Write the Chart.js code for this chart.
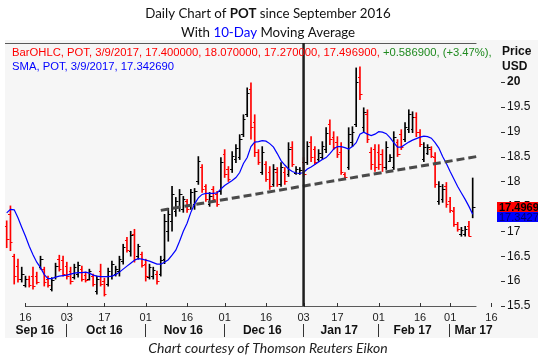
<!DOCTYPE html>
<html>
<head>
<meta charset="utf-8">
<title>POT daily chart</title>
<script src="https://cdn.jsdelivr.net/npm/chart.js@4.4.1/dist/chart.umd.min.js"></script>
<style>
  html, body { margin: 0; padding: 0; background: #fff; }
  #wrap { width: 538px; height: 363px; }
</style>
</head>
<body>
<div id="wrap"><canvas id="potChart" width="538" height="363"></canvas></div>
<script>
// Trading days, Sep 9 2016 .. Mar 21 2017 (bars stop at Mar 9)
const monthNames = ['Sep 16', 'Oct 16', 'Nov 16', 'Dec 16', 'Jan 17', 'Feb 17', 'Mar 17'];
const monthDays = [
  [9, 12, 13, 14, 15, 16, 19, 20, 21, 22, 23, 26, 27, 28, 29, 30],
  [3, 4, 5, 6, 7, 10, 11, 12, 13, 14, 17, 18, 19, 20, 21, 24, 25, 26, 27, 28, 31],
  [1, 2, 3, 4, 7, 8, 9, 10, 11, 14, 15, 16, 17, 18, 21, 22, 23, 25, 28, 29, 30],
  [1, 2, 5, 6, 7, 8, 9, 12, 13, 14, 15, 16, 19, 20, 21, 22, 23, 27, 28, 29, 30],
  [3, 4, 5, 6, 9, 10, 11, 12, 13, 17, 18, 19, 20, 23, 24, 25, 26, 27, 30, 31],
  [1, 2, 3, 6, 7, 8, 9, 10, 13, 14, 15, 16, 17, 21, 22, 23, 24, 27, 28],
  [1, 2, 3, 6, 7, 8, 9, 10, 13, 14, 15, 16, 17, 20, 21]
];
// [month, day] of the labelled ticks on the date axis
const tickDates = [[0, 16], [1, 3], [1, 17], [2, 1], [2, 16], [3, 1], [3, 16], [4, 3], [4, 17], [5, 1], [5, 16], [6, 1], [6, 16]];
const markerDate = [4, 3];            // vertical line, Jan 3
const trendDates = [[2, 7], [6, 10]]; // dashed support line
const trendPrices = [17.42, 18.50];
const priceTicks = [15.5, 16, 16.5, 17, 17.5, 18, 18.5, 19, 19.5, 20];
const lastDate = '3/9/2017';

const opens = [
  17.1, 17.35, 16.5, 16.3, 16.05, 15.92, 16.05, 16.1, 16.1, 16.28,
  16.25, 16.05, 15.85, 16.08, 16.45, 16.42, 16.3, 16.2, 16.08, 16.15,
  16.25, 16.12, 16.05, 16.1, 15.8, 16.2, 16.0, 15.95, 16.1, 16.15,
  16.2, 16.4, 16.82, 16.6, 16.95, 16.5, 16.55, 16.35, 16.08, 16.1,
  16.15, 16.15, 16.45, 17.0, 17.2, 17.4, 17.5, 17.45, 17.6, 17.5,
  17.55, 18.0, 18.3, 17.9, 17.55, 17.85, 17.75, 17.8, 18.55, 18.25,
  18.25, 18.45, 18.5, 18.95, 19.35, 19.85, 19.2, 18.6, 18.2, 18.35,
  18.2, 17.95, 18.2, 17.95, 18.2, 18.15, 18.7, 18.18, 18.17, 18.4,
  18.4, 18.8, 18.65, 18.45, 18.5, 18.65, 19.15, 18.9, 18.8, 18.6,
  18.15, 18.3, 18.8, 19.15, 20.1, 19.1, 19.35, 18.6, 18.65, 18.6,
  18.55, 18.3, 18.42, 18.3, 18.8, 18.95, 18.85, 19.05, 19.05, 19.3,
  19.0, 18.45, 18.58, 18.65, 18.5, 17.6, 17.65, 17.9, 17.6, 17.4,
  17.15, 16.95, 16.95, 17.1, 17.4
];
const highs = [
  17.21, 17.51, 16.54, 16.44, 16.28, 16.1, 16.1, 16.28, 16.18, 16.5,
  16.28, 16.1, 16.07, 16.36, 16.52, 16.5, 16.38, 16.28, 16.34, 16.38,
  16.3, 16.18, 16.24, 16.14, 16.1, 16.34, 16.06, 16.26, 16.4, 16.3,
  16.5, 16.74, 16.88, 17.0, 17.04, 16.74, 16.58, 16.44, 16.34, 16.28,
  16.2, 16.5, 17.34, 17.46, 17.9, 17.68, 17.84, 17.7, 17.64, 17.84,
  17.86, 18.5, 18.34, 17.94, 17.78, 17.9, 17.8, 18.48, 18.64, 18.3,
  18.6, 18.74, 18.94, 19.34, 19.88, 19.98, 19.34, 18.64, 18.7, 18.4,
  18.3, 18.34, 18.28, 18.38, 18.28, 18.78, 18.8, 18.3, 18.28, 18.48,
  18.8, 18.9, 18.7, 18.64, 18.8, 19.08, 19.24, 19.0, 18.9, 18.78,
  18.18, 19.08, 19.1, 20.28, 20.3, 19.48, 19.44, 18.68, 18.74, 18.74,
  18.64, 18.8, 18.54, 19.0, 18.84, 19.04, 19.18, 19.44, 19.4, 19.38,
  19.04, 18.78, 18.74, 18.7, 18.58, 18.0, 17.94, 17.98, 17.68, 17.48,
  17.18, 17.08, 17.1, 17.2, 18.07
];
const lows = [
  16.67, 16.61, 15.94, 15.98, 15.98, 15.88, 15.88, 15.84, 15.94, 16.24,
  15.9, 15.88, 15.8, 16.04, 16.2, 16.1, 16.04, 15.94, 16.04, 16.08,
  16.0, 15.98, 16.02, 15.9, 15.74, 15.9, 15.7, 15.9, 16.04, 16.1,
  16.1, 16.34, 16.58, 16.5, 16.38, 16.44, 16.28, 16.0, 16.04, 16.04,
  15.94, 16.1, 16.35, 16.8, 17.0, 17.3, 17.4, 17.38, 17.38, 17.44,
  17.44, 17.94, 17.78, 17.6, 17.5, 17.6, 17.5, 17.74, 18.08, 18.0,
  18.18, 18.38, 18.44, 18.9, 19.3, 18.85, 18.5, 18.34, 18.14, 18.0,
  17.84, 17.9, 17.9, 17.9, 17.94, 18.1, 18.3, 18.14, 18.14, 18.1,
  18.34, 18.4, 18.34, 18.4, 18.44, 18.58, 18.74, 18.64, 18.48, 18.14,
  18.04, 18.24, 18.7, 19.1, 19.64, 19.0, 18.78, 18.24, 18.2, 18.24,
  18.2, 18.24, 18.4, 18.24, 18.5, 18.64, 18.8, 18.98, 18.98, 18.9,
  18.7, 18.4, 18.54, 18.48, 17.88, 17.54, 17.58, 17.48, 17.38, 17.1,
  17.0, 16.9, 16.9, 16.9, 17.27
];
const closes = [
  16.85, 16.78, 16.1, 16.05, 16.15, 16.05, 15.92, 15.9, 15.98, 16.45,
  15.98, 15.92, 16.02, 16.3, 16.25, 16.15, 16.1, 16.0, 16.28, 16.32,
  16.05, 16.02, 16.2, 15.95, 16.05, 15.95, 15.75, 16.2, 16.35, 16.25,
  16.45, 16.68, 16.62, 16.92, 16.45, 16.7, 16.32, 16.1, 16.28, 16.22,
  16.0, 16.42, 17.2, 17.35, 17.75, 17.6, 17.75, 17.65, 17.45, 17.78,
  17.8, 18.42, 17.85, 17.65, 17.7, 17.65, 17.55, 18.4, 18.15, 18.05,
  18.52, 18.68, 18.85, 19.25, 19.78, 19.1, 18.6, 18.4, 18.6, 18.05,
  17.9, 18.25, 17.95, 18.3, 18.0, 18.65, 18.35, 18.26, 18.24, 18.15,
  18.72, 18.5, 18.4, 18.58, 18.72, 18.98, 18.85, 18.7, 18.55, 18.2,
  18.08, 18.95, 19.0, 20.0, 19.75, 19.4, 18.85, 18.35, 18.3, 18.35,
  18.3, 18.7, 18.5, 18.9, 18.55, 18.7, 19.1, 19.35, 19.3, 19.0,
  18.75, 18.7, 18.7, 18.52, 17.95, 17.9, 17.85, 17.55, 17.42, 17.15,
  17.05, 17.02, 17.05, 16.91, 17.4969
];
// 10-day simple moving average as drawn on the chart
const sma10 = [
  17.37, 17.44, 17.43, 17.27, 17.08, 16.9, 16.7, 16.53, 16.38, 16.27,
  16.13, 16.05, 16.05, 16.08, 16.1, 16.11, 16.12, 16.14, 16.16, 16.17,
  16.17, 16.18, 16.16, 16.12, 16.1, 16.09, 16.09, 16.09, 16.1, 16.13,
  16.18, 16.24, 16.3, 16.36, 16.42, 16.45, 16.44, 16.42, 16.4, 16.37,
  16.34, 16.34, 16.38, 16.43, 16.52, 16.62, 16.8, 17.0, 17.16, 17.38,
  17.55, 17.67, 17.74, 17.76, 17.76, 17.76, 17.77, 17.85, 17.92, 17.97,
  18.02, 18.08, 18.18, 18.36, 18.48, 18.7, 18.79, 18.8, 18.82, 18.81,
  18.76, 18.69, 18.56, 18.42, 18.33, 18.25, 18.2, 18.17, 18.16, 18.18,
  18.25, 18.29, 18.34, 18.39, 18.44, 18.48, 18.56, 18.65, 18.7, 18.7,
  18.68, 18.65, 18.7, 18.78, 18.95, 18.99, 18.95, 18.92, 18.95, 19.0,
  18.99, 18.96, 18.88, 18.78, 18.69, 18.69, 18.74, 18.79, 18.83, 18.86,
  18.89, 18.91, 18.9, 18.87, 18.78, 18.67, 18.5, 18.36, 18.2, 18.05,
  17.9, 17.77, 17.64, 17.5, 17.34269
];

// ---- helpers
const tradingDays = [];
monthDays.forEach((days, m) => days.forEach(d => tradingDays.push({ m: m, d: d })));
function dayIndex(md) {
  return tradingDays.findIndex(t => t.m === md[0] && t.d === md[1]);
}
const tickIdx = tickDates.map(dayIndex);
const markerIdx = dayIndex(markerDate);
const lastIdx = closes.length - 1;

const UP = '#000000';
const DOWN = '#ff0000';
const barColors = closes.map((c, i) => (c >= opens[i] ? UP : DOWN));

const hlData = highs.map((h, i) => ({ x: i, y: [lows[i], h] }));
const smaData = sma10.map((v, i) => ({ x: i, y: v }));
const trendData = trendDates.map((d, i) => ({ x: dayIndex(d), y: trendPrices[i] }));

const SANS = '"Liberation Sans", Arial, sans-serif';

function drawParts(ctx, parts, x, y, align) {
  let total = 0;
  parts.forEach(p => { ctx.font = p.font; total += ctx.measureText(p.text).width; });
  let cx = align === 'center' ? x - total / 2 : x;
  ctx.textAlign = 'left';
  parts.forEach(p => {
    ctx.font = p.font;
    ctx.fillStyle = p.color;
    ctx.fillText(p.text, cx, y);
    cx += ctx.measureText(p.text).width;
  });
}

// all the Eikon style decoration round the plot
const eikonDecor = {
  id: 'eikonDecor',
  beforeDraw(chart) {
    const ctx = chart.ctx;
    ctx.save();
    ctx.fillStyle = '#ffffff';
    ctx.fillRect(0, 0, chart.width, chart.height);
    ctx.fillStyle = '#f6f6f6';
    ctx.fillRect(5, 40, chart.width - 5, 298);
    ctx.restore();
  },
  afterDatasetDraw(chart, args) {
    if (args.index !== 0) return;
    // open / close ticks
    const ctx = chart.ctx;
    const xs = chart.scales.x, ys = chart.scales.y;
    ctx.save();
    ctx.lineWidth = 1;
    for (let i = 0; i < closes.length; i++) {
      const x = Math.round(xs.getPixelForValue(i));
      const yo = Math.round(ys.getPixelForValue(opens[i])) + 0.5;
      const yc = Math.round(ys.getPixelForValue(closes[i])) + 0.5;
      ctx.strokeStyle = barColors[i];
      ctx.beginPath();
      ctx.moveTo(x - 2, yo); ctx.lineTo(x, yo);
      ctx.moveTo(x, yc); ctx.lineTo(x + 2.5, yc);
      ctx.stroke();
    }
    ctx.restore();
  },
  afterDraw(chart) {
    const ctx = chart.ctx;
    const xs = chart.scales.x, ys = chart.scales.y;
    const area = chart.chartArea;
    const endX = xs.getPixelForValue(lastIdx + 1);
    ctx.save();

    // frame lines
    ctx.strokeStyle = '#5a5a5a';
    ctx.lineWidth = 1;
    ctx.beginPath();
    ctx.moveTo(area.left, area.top + 0.5); ctx.lineTo(endX, area.top + 0.5);
    ctx.moveTo(xs.getPixelForValue(tickIdx[0]), area.bottom + 0.5); ctx.lineTo(endX, area.bottom + 0.5);
    ctx.stroke();

    // date ticks
    ctx.strokeStyle = '#333';
    ctx.beginPath();
    tickIdx.forEach(v => {
      const x = Math.round(xs.getPixelForValue(v)) + 0.5;
      ctx.moveTo(x, area.bottom - 3); ctx.lineTo(x, area.bottom + 1);
    });
    ctx.stroke();

    // price ticks
    ctx.beginPath();
    ys.ticks.forEach(t => {
      const y = Math.round(ys.getPixelForValue(t.value)) + 0.5;
      ctx.moveTo(area.right + 4, y); ctx.lineTo(area.right + 8, y);
    });
    ctx.stroke();

    // vertical marker
    const mx = xs.getPixelForValue(markerIdx);
    ctx.strokeStyle = '#1e1e1e';
    ctx.lineWidth = 2.5;
    ctx.beginPath();
    ctx.moveTo(mx, area.top); ctx.lineTo(mx, area.bottom);
    ctx.stroke();

    // month row
    ctx.lineWidth = 1;
    ctx.strokeStyle = '#333';
    ctx.fillStyle = '#111';
    ctx.font = 'bold 12px ' + SANS;
    ctx.textAlign = 'center';
    ctx.textBaseline = 'middle';
    let start = 0;
    monthDays.forEach((days, m) => {
      const first = start, last = start + days.length - 1;
      start += days.length;
      if (m > 0) {
        const sx = Math.round(xs.getPixelForValue(first)) - 0.5;
        ctx.beginPath();
        ctx.moveTo(sx, 324); ctx.lineTo(sx, 337);
        ctx.stroke();
      }
      const cx = (xs.getPixelForValue(first) + xs.getPixelForValue(Math.min(last, xs.max))) / 2;
      ctx.fillText(monthNames[m], cx, 331);
    });

    // titles
    ctx.textBaseline = 'middle';
    const tf = '13.3px Lato';
    drawParts(ctx, [
      { text: 'Daily Chart of ', font: tf, color: '#111' },
      { text: 'POT', font: 'bold ' + tf, color: '#111' },
      { text: ' since September 2016', font: tf, color: '#111' }
    ], 268, 14, 'center');
    drawParts(ctx, [
      { text: 'With ', font: tf, color: '#111' },
      { text: '10-Day', font: tf, color: '#0000ff' },
      { text: ' Moving Average', font: tf, color: '#111' }
    ], 268, 33, 'center');

    // legend lines
    const n = lastIdx;
    const chg = closes[n] - closes[n - 1];
    const pct = chg / closes[n - 1] * 100;
    const lf = '11.25px ' + SANS;
    drawParts(ctx, [
      { text: 'BarOHLC, POT, ' + lastDate + ', ' + opens[n].toFixed(6) + ', ' + highs[n].toFixed(6) + ', ' +
              lows[n].toFixed(6) + ', ' + closes[n].toFixed(6) + ', ', font: lf, color: '#ff0000' },
      { text: '+' + chg.toFixed(6) + ', (+' + pct.toFixed(2) + '%),', font: lf, color: '#1f8a1f' }
    ], 12, 53, 'left');
    drawParts(ctx, [
      { text: 'SMA, POT, ' + lastDate + ', ' + sma10[n].toFixed(6), font: lf, color: '#0000ff' }
    ], 12, 67, 'left');

    // axis title
    ctx.fillStyle = '#111';
    ctx.font = 'bold 12px ' + SANS;
    ctx.textAlign = 'left';
    ctx.fillText('Price', 502, 52);
    ctx.fillText('USD', 502, 67);

    // last value boxes
    const yClose = ys.getPixelForValue(closes[n]);
    let ySma = ys.getPixelForValue(sma10[n]);
    const boxH = 10;
    if (ySma < yClose + boxH) ySma = yClose + boxH;
    ctx.fillStyle = '#ff0000';
    ctx.fillRect(area.right, Math.round(yClose - boxH / 2), chart.width - area.right, boxH);
    ctx.fillStyle = '#0000ff';
    ctx.fillRect(area.right, Math.round(ySma - boxH / 2), chart.width - area.right, boxH);
    ctx.font = 'bold 11px ' + SANS;
    ctx.fillStyle = '#000';
    ctx.fillText(closes[n].toFixed(4), area.right + 2, Math.round(yClose) + 0.5);
    ctx.font = '11px ' + SANS;
    ctx.fillStyle = '#00006a';
    ctx.fillText(sma10[n].toFixed(4), area.right + 2, Math.round(ySma) + 0.5);

    // source line
    ctx.fillStyle = '#222';
    ctx.font = 'italic 14px Lato';
    ctx.textAlign = 'center';
    ctx.fillText('Chart courtesy of Thomson Reuters Eikon', 268, 348);
    ctx.restore();
  }
};

new Chart(document.getElementById('potChart'), {
  type: 'bar',
  data: {
    datasets: [
      {
        type: 'bar',
        label: 'BarOHLC',
        data: hlData,
        backgroundColor: barColors,
        borderWidth: 0,
        barThickness: 1,
        order: 3
      },
      {
        type: 'line',
        label: 'SMA',
        data: smaData,
        borderColor: '#0000ff',
        borderWidth: 1.2,
        pointRadius: 0,
        tension: 0,
        order: 2
      },
      {
        type: 'line',
        label: 'Trend',
        data: trendData,
        borderColor: '#4a4a4a',
        borderWidth: 3,
        borderDash: [8, 4],
        pointRadius: 0,
        order: 1
      }
    ]
  },
  options: {
    responsive: false,
    animation: false,
    events: [],
    layout: { padding: { top: 43, left: 5, right: 0, bottom: 0 } },
    plugins: { legend: { display: false }, title: { display: false }, tooltip: { enabled: false } },
    scales: {
      x: {
        type: 'linear',
        min: -0.45,
        max: 130.47,
        offset: false,
        afterFit: s => { s.height = 57; },
        afterBuildTicks: s => { s.ticks = tickIdx.map(v => ({ value: v })); },
        border: { display: false },
        grid: { display: false, drawTicks: false },
        ticks: {
          autoSkip: false,
          maxRotation: 0,
          padding: 5,
          color: '#222',
          font: { family: SANS, size: 11 },
          callback: v => String(tradingDays[v].d).padStart(2, '0')
        }
      },
      y: {
        position: 'right',
        min: 15.5,
        max: 20.78,
        afterFit: s => { s.width = 41; },
        afterBuildTicks: s => { s.ticks = priceTicks.map(v => ({ value: v })); },
        border: { display: false },
        grid: { display: false, drawTicks: false },
        ticks: {
          padding: 10,
          color: '#111',
          font: c => ({ family: SANS, size: 12, weight: c.tick && c.tick.value === 20 ? 'bold' : 'normal' }),
          callback: v => String(v)
        }
      }
    }
  },
  plugins: [eikonDecor]
});
</script>
</body>
</html>
